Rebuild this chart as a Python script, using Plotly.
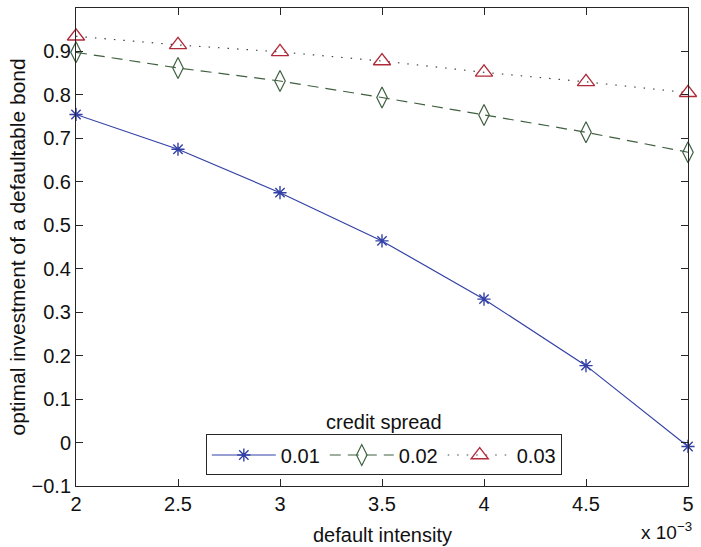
import plotly.graph_objects as go

x_vals = [2, 2.5, 3, 3.5, 4, 4.5, 5]
s001 = [0.755, 0.675, 0.575, 0.464, 0.330, 0.177, -0.009]
s002 = [0.898, 0.862, 0.832, 0.794, 0.754, 0.714, 0.668]
s003 = [0.935, 0.915, 0.899, 0.878, 0.852, 0.830, 0.805]
names = ["0.01", "0.02", "0.03"]
x_ticks = [2, 2.5, 3, 3.5, 4, 4.5, 5]
y_ticks = [-0.1, 0, 0.1, 0.2, 0.3, 0.4, 0.5, 0.6, 0.7, 0.8, 0.9]

FONT = "Liberation Sans, Arial, Helvetica, sans-serif"
TXT = "#111111"
fig = go.Figure()
fig.add_trace(go.Scatter(x=x_vals, y=s001, name=names[0], mode="lines+markers", cliponaxis=False,
                         line=dict(color="#3341A6", width=1.2),
                         marker=dict(symbol="asterisk-open", size=11, color="#3341A6",
                                     line=dict(color="#3341A6", width=1.4))))
fig.add_trace(go.Scatter(x=x_vals, y=s002, name=names[1], mode="lines+markers", cliponaxis=False,
                         line=dict(color="#3F6040", width=1.2, dash="11px,7px"),
                         marker=dict(symbol="diamond-tall-open", size=15, color="#3F6040",
                                     line=dict(color="#3F6040", width=1.2))))
fig.add_trace(go.Scatter(x=x_vals, y=s003, name=names[2], mode="lines+markers", cliponaxis=False,
                         line=dict(color="#444444", width=1.2, dash="1.5px,8px"),
                         marker=dict(symbol="triangle-up-open", size=15, color="#B02A3A",
                                     line=dict(color="#B02A3A", width=1.3))))

axis_common = dict(showgrid=False, zeroline=False, showline=True, mirror="ticks",
                   linecolor="#262626", linewidth=1, ticks="inside", ticklen=7,
                   tickcolor="#262626", tickwidth=1,
                   tickfont=dict(family=FONT, size=20, color=TXT))
fig.update_xaxes(range=[2, 5], tickvals=x_ticks, ticktext=[f"{v:g}" for v in x_ticks],
                 **axis_common)
fig.update_yaxes(range=[-0.1, 1.0], tickvals=y_ticks,
                 ticktext=[("\u22120.1" if v < 0 else f"{v:g}") for v in y_ticks],
                 **axis_common)

fig.update_layout(
    width=701, height=547, margin=dict(l=76, r=8, t=7, b=61),
    plot_bgcolor="white", paper_bgcolor="white",
    legend=dict(orientation="h", x=0.503, xanchor="center", y=0.022, yanchor="bottom",
                bgcolor="white", bordercolor="#262626", borderwidth=1,
                font=dict(family=FONT, size=20, color=TXT), itemwidth=64,
                tracegroupgap=0),
    annotations=[
        dict(text="credit spread", x=0.503, xref="paper", y=0.133, yref="paper",
             xanchor="center", yanchor="middle", showarrow=False,
             font=dict(family=FONT, size=20, color=TXT)),
        dict(text="default intensity", x=0.5, xref="paper", y=-0.103, yref="paper",
             xanchor="center", yanchor="middle", showarrow=False,
             font=dict(family=FONT, size=20, color=TXT)),
        dict(text="optimal investment of a defaultable bond", x=-0.095, xref="paper",
             y=0.501, yref="paper", xanchor="center", yanchor="middle", showarrow=False,
             textangle=-90, font=dict(family=FONT, size=21, color=TXT)),
        dict(text="x 10<sup>\u22123</sup>", x=1.009, xref="paper", y=-0.124, yref="paper",
             xanchor="right", yanchor="bottom", showarrow=False,
             font=dict(family=FONT, size=19, color=TXT)),
    ],
)
fig.write_html("out.html")
